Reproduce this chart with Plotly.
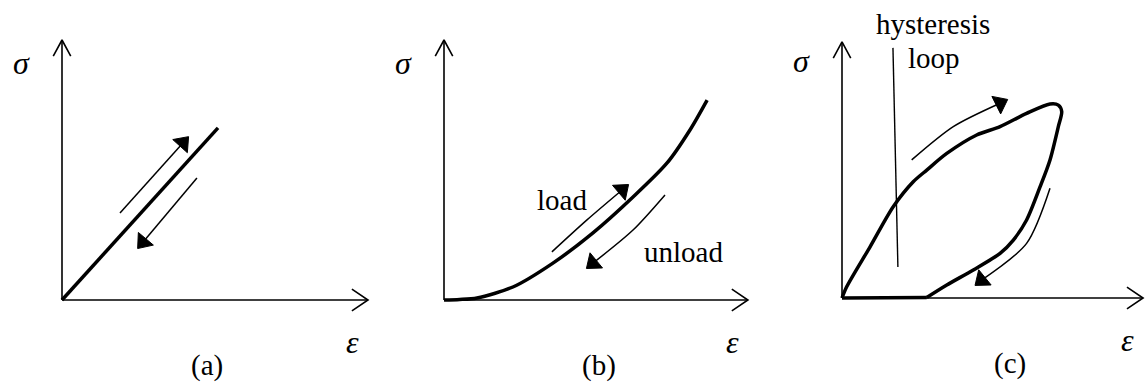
import plotly.graph_objects as go
from plotly.subplots import make_subplots

W, H = 1146, 385
PX = 26.0  # pixels per strain/stress unit

# (a) linear elastic: load and unload on the same straight line
a_eps = [0.0, 6.0]
a_sig = [0.0, 6.62]
a_load_eps = [2.23, 4.65]
a_load_sig = [3.35, 6.04]
a_unload_eps = [5.19, 3.12]
a_unload_sig = [4.69, 2.23]

# (b) nonlinear elastic curve
b_eps = [0.0, 0.6, 1.27, 2.65, 4.19, 5.73, 7.27, 8.58, 9.46, 10.12]
b_sig = [0.0, 0.02, 0.08, 0.5, 1.42, 2.58, 3.96, 5.27, 6.54, 7.69]
b_load_eps = [4.15, 5.5, 6.85]
b_load_sig = [1.85, 3.08, 4.23]
b_unload_eps = [8.5, 7.27, 5.73]
b_unload_sig = [4.04, 2.69, 1.42]

# (c) hysteresis loop: curved loading/unloading path, then flat bottom back to origin
c_eps = [0.0, 0.18, 1.08, 1.97, 2.74, 3.26, 4.03, 5.18, 6.08, 7.10, 8.0, 8.32, 8.45,
         8.32, 8.0, 7.62, 7.10, 6.59, 6.08, 5.05, 4.03, 3.26]
c_sig = [0.0, 0.43, 1.97, 3.51, 4.47, 4.92, 5.56, 6.27, 6.59, 7.10, 7.46, 7.42, 7.17,
         6.59, 5.31, 4.28, 3.0, 2.23, 1.72, 1.08, 0.5, 0.02]
c_base_eps = [3.26, 1.97, 0.0]
c_base_sig = [0.02, 0.0, 0.0]
c_load_eps = [2.68, 4.28, 6.08]
c_load_sig = [5.31, 6.59, 7.49]
c_unload_eps = [8.0, 7.10, 5.37]
c_unload_sig = [4.22, 2.10, 0.69]
c_pointer_eps = [1.96, 2.15]
c_pointer_sig = [9.62, 1.19]

# panel-local origin (px from left of panel, px from top) and axis lengths
panels = [
    dict(ox=62, oy=300, xlen=11.77, ylen=10.0, tag="(a)", tagx=5.58),
    dict(ox=62, oy=300, xlen=11.69, ylen=10.0, tag="(b)", tagx=5.96),
    dict(ox=78, oy=298, xlen=11.58, ylen=9.85, tag="(c)", tagx=6.46),
]

FONT = "Liberation Serif"
fig = make_subplots(rows=1, cols=3, horizontal_spacing=0)


def curve(col, x, y, width, shape="spline"):
    fig.add_trace(go.Scatter(x=x, y=y, mode="lines",
                             line=dict(color="#000000", width=width, shape=shape, smoothing=0.8),
                             hoverinfo="skip"), row=1, col=col)


def arrow(col, x, y):
    curve(col, x, y, 1.5)
    # filled head at the last point, oriented along the last segment
    fig.add_trace(go.Scatter(
        x=x[-2:], y=y[-2:], mode="markers", opacity=1,
        marker=dict(symbol="triangle-up", size=[0, 17], color="#000000", opacity=1,
                    angleref="previous", line=dict(width=1, color="#000000")),
        hoverinfo="skip"), row=1, col=col)


for i, p in enumerate(panels, start=1):
    # axes with open chevron heads
    curve(i, [0, 0, None, 0, p["xlen"]], [p["ylen"], 0, None, 0, 0], 1.6, "linear")
    hx, hy = 0.62, 0.42
    curve(i, [-hy * 0.8, 0, hy * 0.8], [p["ylen"] - hx, p["ylen"], p["ylen"] - hx], 1.6, "linear")
    curve(i, [p["xlen"] - hx, p["xlen"], p["xlen"] - hx], [hy, 0, -hy], 1.6, "linear")
    sub = "" if i == 1 else str(i)
    fig.update_layout({
        f"xaxis{sub}": dict(range=[-p["ox"] / PX, (382 - p["ox"]) / PX], visible=False, fixedrange=True),
        f"yaxis{sub}": dict(range=[-(H - p["oy"]) / PX, p["oy"] / PX], visible=False, fixedrange=True),
    })
    xr, yr = f"x{sub}", f"y{sub}"
    fig.add_annotation(x=-1.55, y=9.1, xref=xr, yref=yr, text="<i>σ</i>", showarrow=False,
                       font=dict(family=FONT, size=32, color="black"))
    fig.add_annotation(x=p["xlen"] - 0.6, y=-1.62, xref=xr, yref=yr, text="<i>ε</i>", showarrow=False,
                       font=dict(family=FONT, size=32, color="black"))
    fig.add_annotation(x=p["tagx"], y=-2.5, xref=xr, yref=yr, text=p["tag"], showarrow=False,
                       font=dict(family=FONT, size=29, color="black"))

curve(1, a_eps, a_sig, 3.5, "linear")
arrow(1, a_load_eps, a_load_sig)
arrow(1, a_unload_eps, a_unload_sig)

curve(2, b_eps, b_sig, 3.5)
arrow(2, b_load_eps, b_load_sig)
arrow(2, b_unload_eps, b_unload_sig)

curve(3, c_eps, c_sig, 3.5)
curve(3, c_base_eps, c_base_sig, 3.5, "linear")
arrow(3, c_load_eps, c_load_sig)
arrow(3, c_unload_eps, c_unload_sig)
curve(3, c_pointer_eps, c_pointer_sig, 1.4, "linear")

txt = dict(family=FONT, size=29, color="black")
fig.add_annotation(x=4.54, y=3.85, xref="x2", yref="y2", text="load", showarrow=False, font=txt)
fig.add_annotation(x=9.23, y=1.85, xref="x2", yref="y2", text="unload", showarrow=False, font=txt)
fig.add_annotation(x=3.5, y=10.54, xref="x3", yref="y3", text="hysteresis", showarrow=False, font=txt)
fig.add_annotation(x=3.54, y=9.23, xref="x3", yref="y3", text="loop", showarrow=False, font=txt)

fig.update_layout(
    width=W, height=H,
    margin=dict(l=0, r=0, t=0, b=0),
    showlegend=False,
    plot_bgcolor="white", paper_bgcolor="white",
)
fig.write_html("out.html", config={"displayModeBar": False},
               post_script="document.body.style.margin='0';")
